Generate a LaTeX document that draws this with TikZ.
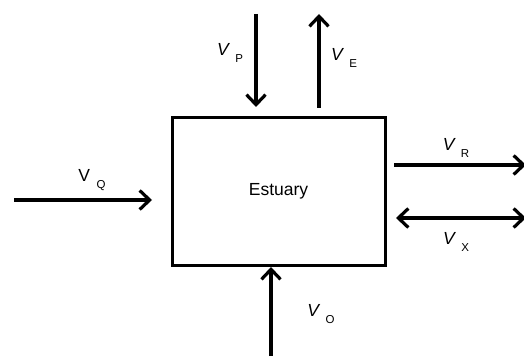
\documentclass[tikz,border=0pt]{standalone}
\usepackage{fontspec}
\setmainfont{Liberation Sans}
\usetikzlibrary{positioning, arrows.meta, calc}
\newcommand{\flowlab}[2]{#1\hspace{6.5pt}\raisebox{-7pt}{\fontsize{11.5}{13}\selectfont #2}}

\begin{document}
\begin{tikzpicture}[
        x=1pt, y=-1pt,
        font=\fontsize{17.5}{20}\selectfont,
        % Styles for nodes
        basin/.style={
            rectangle, draw=black, line width=3pt, fill=white,
            minimum width=213pt, minimum height=147pt,
            align=center
        },
        flowtext/.style={
            inner sep=0pt, align=center
        },
        % Style for flow arrows
        flow/.style={
            draw=black, line width=3.2pt,
            -{Straight Barb[length=10pt, width=19pt, line width=3.2pt]}
        },
        exchange/.style={
            draw=black, line width=3.2pt,
            {Straight Barb[length=10pt, width=19pt, line width=3.2pt]}-{Straight Barb[length=10pt, width=19pt, line width=3.2pt]}
        }
    ]
    \useasboundingbox (0,0) rectangle (524,358);

    % 1. ESTUARY BOX
    \node[basin] (est) at (278.5, 191.5) {Estuary};

    % 2. FREE ENDS OF THE FLOWS
    \coordinate (P_top)  at (256, 14);
    \coordinate (P_tip)  at (256, 107);
    \coordinate (E_foot) at (319, 108);
    \coordinate (E_top)  at (319, 14);
    \coordinate (Q_in)   at (14, 200);
    \coordinate (Q_tip)  at (152, 200);
    \coordinate (R_foot) at (394, 165);
    \coordinate (R_out)  at (526, 165);
    \coordinate (X_in)   at (396, 218);
    \coordinate (X_out)  at (526, 218);
    \coordinate (O_foot) at (271, 356);
    \coordinate (O_tip)  at (271, 267);

    % 3. FLOW ARROWS
    \draw[flow]     (P_top)  -- (P_tip);
    \draw[flow]     (E_foot) -- (E_top);
    \draw[flow]     (Q_in)   -- (Q_tip);
    \draw[flow]     (R_foot) -- (R_out);
    \draw[exchange] (X_in)   -- (X_out);
    \draw[flow]     (O_foot) -- (O_tip);

    % 4. LABELS
    \node[flowtext] (P_lab) at (230, 53)  {\flowlab{{\itshape V}}{P}};
    \node[flowtext] (E_lab) at (344, 58)  {\flowlab{{\itshape V}}{E}};
    \node[flowtext] (Q_lab) at (92, 180)  {\flowlab{V}{Q}};
    \node[flowtext] (R_lab) at (456, 148) {\flowlab{{\itshape V}}{R}};
    \node[flowtext] (X_lab) at (456, 242) {\flowlab{{\itshape V}}{X}};
    \node[flowtext] (O_lab) at (321, 314) {\flowlab{{\itshape V}}{O}};

\end{tikzpicture}
\end{document}
